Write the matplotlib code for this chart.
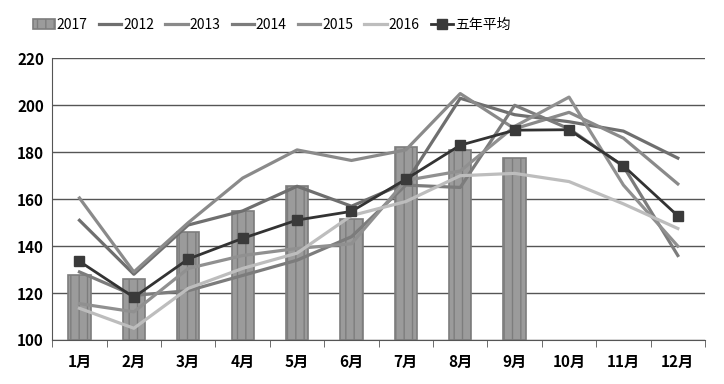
import numpy as np
import matplotlib
matplotlib.use("Agg")
import matplotlib.pyplot as plt

plt.rcParams['font.family'] = ['Noto Sans CJK SC', 'DejaVu Sans']

months = ['1月', '2月', '3月', '4月', '5月', '6月', '7月', '8月', '9月', '10月', '11月', '12月']

y2017 = [127.5, 125.8, 146.1, 154.9, 165.5, 151.4, 182.3, 181.1, 177.7]
y2012 = [151, 128, 149, 155, 165.5, 157, 167, 203, 196, 193, 189, 177.5]
y2013 = [160.5, 129, 150, 169, 181, 176.5, 181, 205, 190, 197, 186, 166.5]
y2014 = [129, 119, 121, 127.5, 134, 144, 166, 165, 200, 190, 174, 136]
y2015 = [115.5, 112, 130.5, 136, 139, 141, 168, 172, 191, 203.5, 166, 140]
y2016 = [113.5, 105, 122, 130.5, 137, 153, 159, 170, 171, 167.5, 158, 147.5]
avg5 = [133.5, 118.2, 134.5, 143.3, 151.1, 154.8, 168.5, 183.0, 189.4, 189.6, 174.2, 152.9]

fig = plt.figure(figsize=(7.24, 3.84), dpi=100)
ax = fig.add_axes([0.0722, 0.1146, 0.9016, 0.7334])

x = np.arange(len(months))

# bars for 2017
b = ax.bar(x[:len(y2017)], [v - 100 for v in y2017], bottom=100, width=0.41,
           color='#9b9b9b', edgecolor='#7d7d7d', linewidth=1.2, hatch='||',
           label='2017', zorder=2)

lw = 2.3
l12, = ax.plot(x, y2012, color='#6f6f6f', lw=lw, label='2012', zorder=3)
l13, = ax.plot(x, y2013, color='#8a8a8a', lw=lw, label='2013', zorder=3)
l14, = ax.plot(x, y2014, color='#7c7c7c', lw=lw, label='2014', zorder=3)
l15, = ax.plot(x, y2015, color='#909090', lw=lw, label='2015', zorder=3)
l16, = ax.plot(x, y2016, color='#bdbdbd', lw=lw, label='2016', zorder=3)
la, = ax.plot(x, avg5, color='#333333', lw=2, marker='s', markersize=7,
              markerfacecolor='#3a3a3a', markeredgecolor='#3a3a3a',
              label='五年平均', zorder=4)

ax.set_ylim(100, 220)
ax.set_yticks(range(100, 221, 20))
ax.set_xlim(-0.5, 11.5)
ax.set_xticks(x)
ax.set_xticklabels(months)
ax.set_xticks(np.arange(-0.5, 12, 1), minor=True)
ax.tick_params(axis='x', which='major', length=0, pad=10, labelsize=11)
ax.tick_params(axis='x', which='minor', length=5, color='#555555')
ax.tick_params(axis='y', length=0, pad=6, labelsize=11)
for lab in ax.get_xticklabels() + ax.get_yticklabels():
    lab.set_fontweight('bold')

ax.grid(axis='y', color='#555555', lw=1, zorder=0)
ax.set_axisbelow(True)
for s in ['top', 'right']:
    ax.spines[s].set_visible(False)
ax.spines['left'].set_color('#555555')
ax.spines['bottom'].set_color('#555555')

fig.legend(handles=[b, l12, l13, l14, l15, l16, la], loc='center left',
           bbox_to_anchor=(0.045, 0.935), ncol=7, frameon=False,
           fontsize=10, handlelength=1.6, handletextpad=0.15,
           columnspacing=0.8, borderpad=0, borderaxespad=0)

fig.savefig('out.png', dpi=100)
